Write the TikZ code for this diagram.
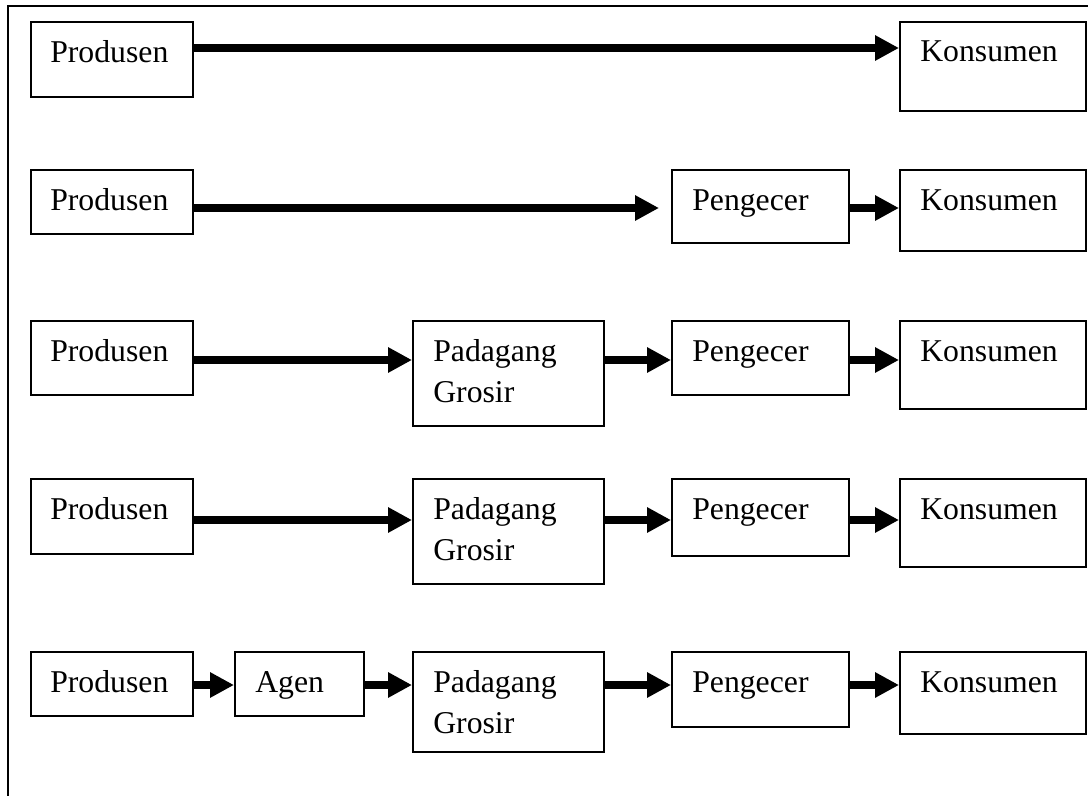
\documentclass[tikz,border=0pt]{standalone}
\usepackage{fontspec}
\setmainfont{Liberation Serif}
\usetikzlibrary{arrows.meta}
\begin{document}
\begin{tikzpicture}[x=0.75pt,y=-0.75pt,
    kotak/.style 2 args={draw, line width=1.2pt, anchor=north west, inner sep=0pt,
        minimum width=#1*0.75pt, minimum height=#2*0.75pt},
    teks/.style={anchor=base west, inner sep=0pt, align=left, text width=150pt,
        font=\fontsize{23.8pt}{30.75pt}\selectfont},
    panah/.style={line width=6.3pt, -{Triangle[length=18pt,width=18pt]}}]
    \useasboundingbox (0,0) rectangle (1088,796);

    % Bingkai
    \draw[line width=1.4pt] (1088,6) -- (8,6) -- (8,796);

    % Riga 1
    \node[kotak={162}{75}] (p1) at (30,21) {};
    \node[kotak={186}{89}] (k1) at (899,21) {};
    \node[teks] (tp1) at ([shift={(20,41)}]p1.north west) {Produsen};
    \node[teks] (tk1) at ([shift={(21,40)}]k1.north west) {Konsumen};
    \coordinate (y1) at (0,48);
    \draw[panah] (p1.east |- y1) -- (k1.west |- y1);

    % Riga 2
    \node[kotak={162}{64}] (p2) at (30,169) {};
    \node[kotak={177}{73}] (g2) at (671,169) {};
    \node[kotak={186}{81}] (k2) at (899,169) {};
    \node[teks] (tp2) at ([shift={(20,41)}]p2.north west) {Produsen};
    \node[teks] (tg2) at ([shift={(21,41)}]g2.north west) {Pengecer};
    \node[teks] (tk2) at ([shift={(21,41)}]k2.north west) {Konsumen};
    \coordinate (y2) at (0,208);
    \draw[panah, shorten >=9pt] (p2.east |- y2) -- (g2.west |- y2);
    \draw[panah] (g2.east |- y2) -- (k2.west |- y2);

    % Riga 3
    \node[kotak={162}{74}] (p3) at (30,320) {};
    \node[kotak={191}{105}] (d3) at (412,320) {};
    \node[kotak={177}{74}] (g3) at (671,320) {};
    \node[kotak={186}{88}] (k3) at (899,320) {};
    \node[teks] (tp3) at ([shift={(20,41)}]p3.north west) {Produsen};
    \node[teks] (td3) at ([shift={(21,41)}]d3.north west) {Padagang\\Grosir};
    \node[teks] (tg3) at ([shift={(21,41)}]g3.north west) {Pengecer};
    \node[teks] (tk3) at ([shift={(21,41)}]k3.north west) {Konsumen};
    \coordinate (y3) at (0,360);
    \draw[panah] (p3.east |- y3) -- (d3.west |- y3);
    \draw[panah] (d3.east |- y3) -- (g3.west |- y3);
    \draw[panah] (g3.east |- y3) -- (k3.west |- y3);

    % Riga 4
    \node[kotak={162}{75}] (p4) at (30,478) {};
    \node[kotak={191}{105}] (d4) at (412,478) {};
    \node[kotak={177}{77}] (g4) at (671,478) {};
    \node[kotak={186}{88}] (k4) at (899,478) {};
    \node[teks] (tp4) at ([shift={(20,41)}]p4.north west) {Produsen};
    \node[teks] (td4) at ([shift={(21,41)}]d4.north west) {Padagang\\Grosir};
    \node[teks] (tg4) at ([shift={(21,41)}]g4.north west) {Pengecer};
    \node[teks] (tk4) at ([shift={(21,41)}]k4.north west) {Konsumen};
    \coordinate (y4) at (0,520);
    \draw[panah] (p4.east |- y4) -- (d4.west |- y4);
    \draw[panah] (d4.east |- y4) -- (g4.west |- y4);
    \draw[panah] (g4.east |- y4) -- (k4.west |- y4);

    % Riga 5
    \node[kotak={162}{64}] (p5) at (30,651) {};
    \node[kotak={129}{64}] (a5) at (234,651) {};
    \node[kotak={191}{100}] (d5) at (412,651) {};
    \node[kotak={177}{75}] (g5) at (671,651) {};
    \node[kotak={186}{82}] (k5) at (899,651) {};
    \node[teks] (tp5) at ([shift={(20,41)}]p5.north west) {Produsen};
    \node[teks] (ta5) at ([shift={(21,41)}]a5.north west) {Agen};
    \node[teks] (td5) at ([shift={(21,41)}]d5.north west) {Padagang\\Grosir};
    \node[teks] (tg5) at ([shift={(21,41)}]g5.north west) {Pengecer};
    \node[teks] (tk5) at ([shift={(21,41)}]k5.north west) {Konsumen};
    \coordinate (y5) at (0,685);
    \draw[panah] (p5.east |- y5) -- (a5.west |- y5);
    \draw[panah] (a5.east |- y5) -- (d5.west |- y5);
    \draw[panah] (d5.east |- y5) -- (g5.west |- y5);
    \draw[panah] (g5.east |- y5) -- (k5.west |- y5);

\end{tikzpicture}
\end{document}
